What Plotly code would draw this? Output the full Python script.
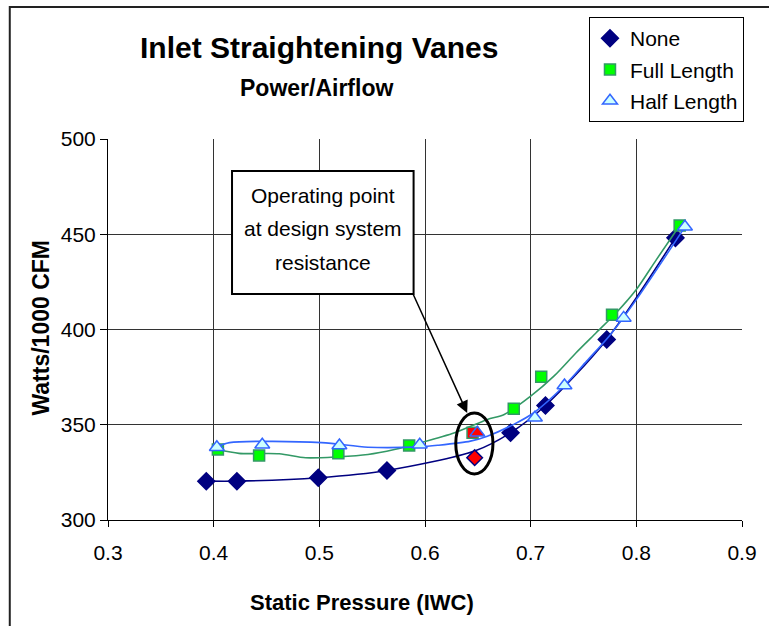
import plotly.graph_objects as go

# ---- data ----
series_names = ["None", "Full Length", "Half Length"]

pressure_none = [0.393, 0.422, 0.499, 0.564, 0.681, 0.714, 0.772, 0.837]
watts_none = [320.4, 320.4, 322.2, 326.0, 345.8, 360.1, 394.8, 448.1]

pressure_full = [0.404, 0.443, 0.518, 0.585, 0.684, 0.710, 0.777, 0.841]
watts_full = [337.0, 333.9, 335.0, 339.1, 358.4, 375.2, 407.7, 454.6]

pressure_half = [0.403, 0.446, 0.519, 0.595, 0.704, 0.732, 0.788, 0.846]
watts_half = [338.2, 339.5, 339.1, 339.5, 353.7, 370.6, 406.1, 453.9]

# smoothed curves as traced in the picture
curve_none_x = [0.393, 0.422, 0.499, 0.564, 0.647, 0.681, 0.714, 0.772, 0.837]
curve_none_y = [320.4, 320.4, 322.2, 326.0, 336.2, 345.8, 360.1, 394.8, 448.1]

curve_full_x = [0.404, 0.424, 0.462, 0.487, 0.518, 0.546, 0.571, 0.596, 0.628,
                0.659, 0.675, 0.700, 0.722, 0.743, 0.762, 0.781, 0.800, 0.819, 0.841]
curve_full_y = [337.0, 335.0, 334.8, 332.7, 333.2, 334.4, 337.0, 340.6, 345.8,
                352.8, 355.4, 365.0, 375.5, 387.8, 398.3, 408.8, 421.0, 436.7, 454.6]

curve_half_x = [0.403, 0.415, 0.502, 0.546, 0.595, 0.612, 0.643, 0.659, 0.684,
                0.703, 0.732, 0.753, 0.775, 0.800, 0.846]
curve_half_y = [338.2, 340.6, 340.6, 338.2, 338.4, 339.2, 341.4, 344.0, 350.2,
                356.3, 370.6, 383.4, 397.0, 415.7, 453.9]

# operating points at design system resistance (None, Full Length, Half Length)
op_pressure = [0.647, 0.645, 0.6495]
op_watts = [332.7, 345.8, 345.8]

x_ticks = [0.3, 0.4, 0.5, 0.6, 0.7, 0.8, 0.9]
y_ticks = [300, 350, 400, 450, 500]

callout_lines = ["Operating point", "at design system", "resistance"]

FONT = "Liberation Sans, Arial, sans-serif"

# ---- layout geometry ----
W, H = 769, 626
L, R, T, B = 108, 22, 139, 106
pw = W - L - R
ph = H - T - B
XR = [0.3, 0.9]
YR = [300, 500]


def px_x(px):
    return (px - L) / pw


def px_y(py):
    return (H - B - py) / ph


def dx(px):
    return XR[0] + (px - L) / pw * (XR[1] - XR[0])


def dy(py):
    return YR[1] - (py - T) / ph * (YR[1] - YR[0])


fig = go.Figure()

styles = [
    dict(line="#000080", sym="diamond", size=13, fill="#000080", edge="#000080"),
    dict(line="#339966", sym="square", size=11, fill="#00FF00", edge="#339966"),
    dict(line="#3366FF", sym="triangle-up", size=13, fill="#CCFFFF", edge="#3366FF"),
]
curves = [(curve_none_x, curve_none_y), (curve_full_x, curve_full_y),
          (curve_half_x, curve_half_y)]
points = [(pressure_none, watts_none), (pressure_full, watts_full),
          (pressure_half, watts_half)]

for i in range(3):
    st = styles[i]
    cx, cy = curves[i]
    px_, py_ = points[i]
    fig.add_trace(go.Scatter(
        x=cx, y=cy, mode="lines", showlegend=False, hoverinfo="skip",
        line=dict(color=st["line"], width=1.6, shape="spline", smoothing=0.8),
    ))
    fig.add_trace(go.Scatter(
        x=px_, y=py_, name=series_names[i], mode="markers",
        legendgroup=f"g{i}",
        marker=dict(symbol=st["sym"], size=st["size"], color=st["fill"],
                    line=dict(color=st["edge"], width=1.5)),
    ))

# red operating-point markers
for i in range(3):
    st = styles[i]
    fig.add_trace(go.Scatter(
        x=[op_pressure[i]], y=[op_watts[i]], mode="markers", showlegend=False,
        marker=dict(symbol=st["sym"], size=st["size"] - (1 if i == 0 else 0),
                    color="#FF0000", line=dict(color=st["edge"], width=1.5)),
    ))

fig.update_layout(
    width=W, height=H,
    margin=dict(l=L, r=R, t=T, b=B),
    paper_bgcolor="white", plot_bgcolor="white",
    font=dict(family=FONT, color="black", size=21),
    showlegend=True,
    legend=dict(
        x=px_x(749), y=px_y(17), xanchor="right", yanchor="top",
        bordercolor="black", borderwidth=1, bgcolor="white",
        font=dict(family=FONT, size=21), tracegroupgap=1,
    ),
    xaxis=dict(
        range=XR, tickvals=x_ticks, ticktext=[str(v) for v in x_ticks],
        showgrid=True, gridcolor="#333333", gridwidth=1,
        showline=True, linecolor="black", linewidth=1,
        ticks="outside", ticklen=6, tickcolor="black",
        tickfont=dict(size=21), ticklabelstandoff=8, zeroline=False,
    ),
    yaxis=dict(
        range=YR, tickvals=y_ticks,
        showgrid=True, gridcolor="#333333", gridwidth=1,
        showline=True, linecolor="black", linewidth=1,
        ticks="outside", ticklen=7, tickcolor="black",
        tickfont=dict(size=21), zeroline=False,
    ),
)

annotations = [
    dict(text="<b>Inlet Straightening Vanes</b>", xref="paper", yref="paper",
         x=px_x(321), y=px_y(47), xanchor="center", yanchor="middle",
         showarrow=False, font=dict(size=30)),
    dict(text="<b>Power/Airflow</b>", xref="paper", yref="paper",
         x=px_x(318), y=px_y(88), xanchor="center", yanchor="middle",
         showarrow=False, font=dict(size=23)),
    dict(text="<b>Static Pressure (IWC)</b>", xref="paper", yref="paper",
         x=px_x(364), y=px_y(602), xanchor="center", yanchor="middle",
         showarrow=False, font=dict(size=22)),
    dict(text="<b>Watts/1000 CFM</b>", xref="paper", yref="paper",
         x=px_x(40), y=px_y(328), xanchor="center", yanchor="middle",
         textangle=-90, showarrow=False, font=dict(size=23)),
    # arrow from the callout box to the operating points
    dict(text="", x=dx(470), y=dy(413), xref="x", yref="y",
         ax=dx(415), ay=dy(293), axref="x", ayref="y",
         showarrow=True, arrowhead=2, arrowsize=1.6, arrowwidth=1.5,
         arrowcolor="black", standoff=0),
]
line_centers = [195, 228, 262]
for txt, yc in zip(callout_lines, line_centers):
    annotations.append(dict(
        text=txt, x=dx(324.5), y=dy(yc), xref="x", yref="y",
        xanchor="center", yanchor="middle", showarrow=False,
        font=dict(size=21)))
fig.update_layout(annotations=annotations)

shapes = [
    # callout box
    dict(type="rect", xref="x", yref="y",
         x0=dx(233), x1=dx(416), y0=dy(294), y1=dy(171),
         line=dict(color="black", width=2), fillcolor="white", layer="above"),
    # ellipse around operating points
    dict(type="circle", xref="x", yref="y",
         x0=dx(458.5), x1=dx(496), y0=dy(474), y1=dy(413),
         line=dict(color="black", width=3), layer="above"),
    # outer chart border
    dict(type="rect", xref="paper", yref="paper",
         x0=px_x(9), x1=px_x(800), y0=px_y(660), y1=px_y(7),
         line=dict(color="#222222", width=2), layer="below"),
]
fig.update_layout(shapes=shapes)

fig.write_html("out.html")
